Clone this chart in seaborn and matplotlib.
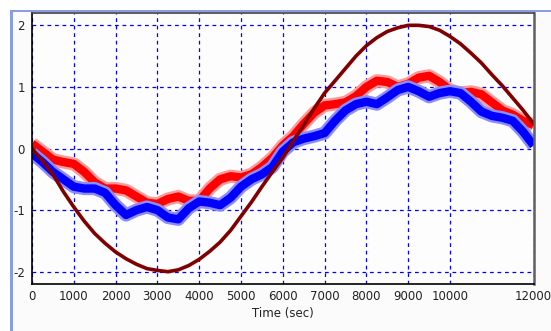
import numpy as np
import pandas as pd
import matplotlib
matplotlib.use("Agg")
import matplotlib.pyplot as plt
from matplotlib.patches import Rectangle
import seaborn as sns

# sample times (sec), every 250 s
t = np.arange(0, 12001, 250)

# red trace
red_vals = [0.08, -0.05, -0.18, -0.22, -0.25, -0.38, -0.55, -0.65, -0.65, -0.68,
            -0.78, -0.88, -0.90, -0.82, -0.78, -0.85, -0.85, -0.65, -0.50, -0.45,
            -0.47, -0.42, -0.30, -0.15, 0.05, 0.20, 0.40, 0.58, 0.70, 0.72,
            0.75, 0.85, 1.00, 1.10, 1.08, 1.00, 1.05, 1.15, 1.18, 1.08,
            0.95, 0.90, 0.92, 0.88, 0.75, 0.62, 0.55, 0.45, 0.38]

# blue trace
blue_vals = [-0.08, -0.22, -0.38, -0.50, -0.62, -0.65, -0.65, -0.72, -0.92, -1.08,
             -1.00, -0.95, -1.00, -1.12, -1.15, -0.97, -0.86, -0.88, -0.92, -0.80,
             -0.62, -0.50, -0.42, -0.30, -0.05, 0.10, 0.16, 0.20, 0.25, 0.45,
             0.62, 0.72, 0.76, 0.72, 0.83, 0.95, 1.00, 0.93, 0.84, 0.90,
             0.93, 0.90, 0.76, 0.60, 0.53, 0.50, 0.45, 0.27, 0.05]

# dark red (reference) trace
ref_vals = [0.0, -0.20, -0.42, -0.70, -0.95, -1.18, -1.38, -1.54, -1.68, -1.79,
            -1.88, -1.95, -1.98, -2.00, -1.97, -1.90, -1.80, -1.67, -1.52, -1.33,
            -1.10, -0.87, -0.62, -0.38, -0.15, 0.12, 0.38, 0.65, 0.90, 1.10,
            1.30, 1.50, 1.67, 1.80, 1.90, 1.96, 2.00, 2.00, 1.98, 1.92,
            1.82, 1.70, 1.55, 1.39, 1.20, 1.02, 0.82, 0.62, 0.40]

x_ticks = [0, 1000, 2000, 3000, 4000, 5000, 6000, 7000, 8000, 9000, 10000, 12000]
y_ticks = [-2, -1, 0, 1, 2]

df = pd.DataFrame({"t": t, "red": red_vals, "blue": blue_vals, "ref": ref_vals})

sns.set_style("white")
plt.rcParams["font.family"] = ["DejaVu Sans"]

fig = plt.figure(figsize=(5.51, 3.31), dpi=100)
fig.patch.set_facecolor("white")

# window-like frame
fig.patches.append(Rectangle((10 / 551, 0), 1, 1 - 10 / 331, transform=fig.transFigure,
                             facecolor="#fbfbfb", edgecolor="none", zorder=-2))
fig.patches.append(Rectangle((10 / 551, 1 - 12 / 331), 1, 2.5 / 331, transform=fig.transFigure,
                             facecolor="#8a9ce6", edgecolor="none", zorder=-1))
fig.patches.append(Rectangle((10 / 551, 0), 2.5 / 551, 1 - 10 / 331, transform=fig.transFigure,
                             facecolor="#8a9ce6", edgecolor="none", zorder=-1))

ax = fig.add_axes([32 / 551, 1 - 284 / 331, 501.6 / 551, 271 / 331])
ax.set_facecolor("#fdfdfd")

# noisy traces: light halo for the fuzzy edge, solid core on top
for col, colour, halo in [("red", "#ff0000", "#ff9a9a"), ("blue", "#0000ff", "#8c8cff")]:
    sns.lineplot(data=df, x="t", y=col, ax=ax, color=halo, linewidth=9.5,
                 solid_joinstyle="round", solid_capstyle="butt")
    sns.lineplot(data=df, x="t", y=col, ax=ax, color=colour, linewidth=6,
                 solid_joinstyle="round", solid_capstyle="butt")
sns.lineplot(data=df, x="t", y="ref", ax=ax, color="#800000", linewidth=2.6)

ax.set_xlim(0, 12000)
ax.set_ylim(-2.2, 2.2)
ax.set_xticks(x_ticks)
ax.set_xticklabels([str(v) for v in x_ticks])
ax.set_yticks(y_ticks)
ax.set_yticklabels([str(v) for v in y_ticks])
ax.tick_params(axis="both", length=0, labelsize=8.5, colors="#222222")
ax.tick_params(axis="x", pad=4)
ax.tick_params(axis="y", pad=5)
ax.set_xlabel("Time (sec)", fontsize=8.5, color="#222222", labelpad=3)
ax.set_ylabel("")

ax.grid(True, color="#0000ff", linestyle=(0, (3, 3)), linewidth=0.9)
ax.set_axisbelow(True)

for side in ["left", "bottom"]:
    ax.spines[side].set_color("#000000")
    ax.spines[side].set_linewidth(1.2)
ax.spines["top"].set_color("#404040")
ax.spines["top"].set_linewidth(1.2)
ax.spines["right"].set_color("#606060")
ax.spines["right"].set_linewidth(1.8)

fig.savefig("out.png", dpi=100)
